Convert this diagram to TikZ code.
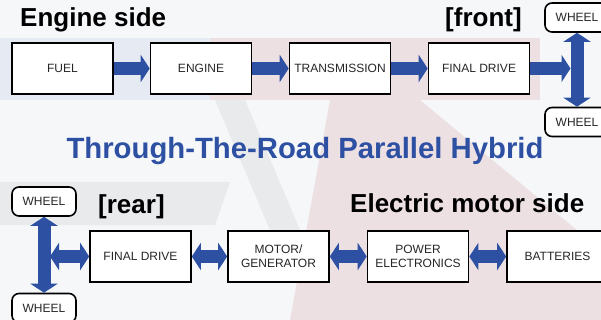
\documentclass[tikz,border=0pt]{standalone}
\usepackage{fontspec}
\setmainfont{Liberation Sans}
\usetikzlibrary{arrows.meta}

\definecolor{hybblue}{RGB}{46,80,163}
\definecolor{bgbase}{RGB}{245,247,249}
\definecolor{bgblue}{RGB}{230,234,243}
\definecolor{bgpink}{RGB}{237,224,227}
\definecolor{bggrey}{RGB}{233,234,236}

\tikzset{
    block/.style={draw=black, line width=1.6pt, fill=white, minimum width=101pt, minimum height=51pt,
        inner sep=1pt, align=center, text=black!85, font=\fontsize{12}{14}\selectfont},
    wheelbox/.style={draw=black, line width=1.6pt, fill=white, rounded corners=7pt, minimum width=64pt,
        minimum height=29pt, inner sep=1pt, text=black!85, font=\fontsize{12}{14}\selectfont},
    flow/.style={draw=hybblue, line width=13pt, -{Triangle[width=27pt,length=9pt]}},
    twoway/.style={draw=hybblue, line width=13pt, {Triangle[width=27pt,length=9pt]}-{Triangle[width=27pt,length=9pt]}},
    heading/.style={anchor=base west, inner sep=0pt, font=\bfseries\fontsize{26}{30}\selectfont},
}

\begin{document}
\begin{tikzpicture}[x=1pt, y=-1pt]

    % background
    \useasboundingbox (0,0) rectangle (601,320);
    \fill[bgbase] (0,0) rectangle (601,320);
    \fill[bgblue] (0,38) rectangle (210,100);
    \fill[bgpink] (210,38) -- (540,38) -- (540,100) -- (210,100) -- cycle;
    \fill[bgpink] (330,100) -- (420,100) -- (601,250) -- (601,320) -- (290,320) -- cycle;
    \fill[bggrey] (215,100) -- (245,100) -- (300,230) -- (270,230) -- cycle;
    \fill[bggrey] (0,182) -- (230,182) -- (215,225) -- (0,225) -- cycle;

    % engine side: front axle
    \node[heading] (enginelbl) at (20,27) {Engine side};
    \node[heading] (frontlbl) at (445,27) {[front]};
    \node[block] (fuel) at (62.5,68.5) {FUEL};
    \node[block] (engine) at (201,68.5) {ENGINE};
    \node[block] (trans) at (340,68.5) {TRANSMISSION};
    \node[block] (fdfront) at (479,68.5) {FINAL DRIVE};
    \node[wheelbox] (wheelfl) at (577,17.5) {WHEEL};
    \node[wheelbox] (wheelfr) at (577,122) {WHEEL};
    \coordinate (fronthub) at (570.5,68.5);

    \draw[flow] (fuel) -- (engine);
    \draw[flow] (engine) -- (trans);
    \draw[flow] (trans) -- (fdfront);
    \draw[flow] (fdfront) -- (fronthub);
    \draw[twoway] (wheelfl) -- (wheelfr);

    % title
    \node[text=hybblue, anchor=base, inner sep=0pt, font=\bfseries\fontsize{29.3}{33}\selectfont]
        (title) at (305,159) {Through-The-Road Parallel Hybrid};

    % electric motor side: rear axle
    \node[heading] (rearlbl) at (98,213) {[rear]};
    \node[heading] (motorlbl) at (350,212) {Electric motor side};
    \node[wheelbox] (wheelrl) at (44,201.5) {WHEEL};
    \node[wheelbox] (wheelrr) at (44,308) {WHEEL};
    \node[block] (fdrear) at (140.5,256.5) {FINAL DRIVE};
    \node[block] (motor) at (278.5,256.5) {MOTOR/\\GENERATOR};
    \node[block] (power) at (418,256.5) {POWER\\ELECTRONICS};
    \node[block] (batt) at (557.5,256.5) {BATTERIES};
    \coordinate (rearhub) at (50,256.5);

    \draw[twoway] (wheelrl) -- (wheelrr);
    \draw[twoway] (rearhub) -- (fdrear);
    \draw[twoway] (fdrear) -- (motor);
    \draw[twoway] (motor) -- (power);
    \draw[twoway] (power) -- (batt);

\end{tikzpicture}
\end{document}
